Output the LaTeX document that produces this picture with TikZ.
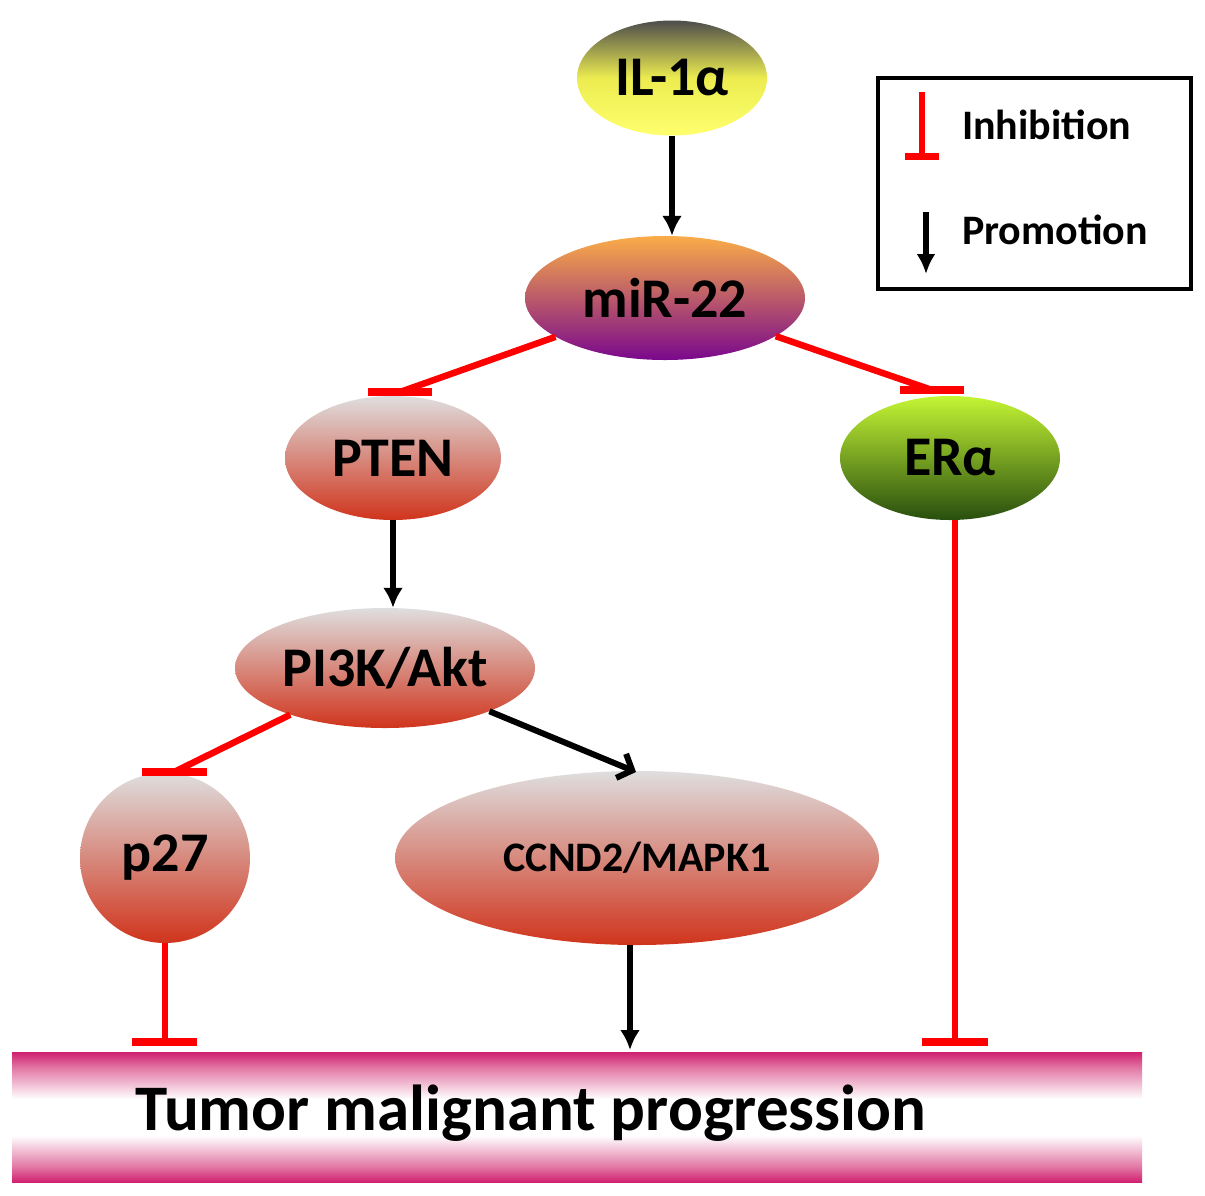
\documentclass[tikz,border=0pt]{standalone}
\usepackage{fontspec}
\setmainfont{Carlito}
\usetikzlibrary{shapes.geometric,arrows.meta}
\definecolor{inhred}{RGB}{255,0,0}
\definecolor{lgray}{RGB}{222,222,222}
\definecolor{nred}{RGB}{208,52,28}
\definecolor{bmag}{RGB}{208,32,112}
\definecolor{bmagl}{RGB}{226,120,165}
\definecolor{ilyel}{RGB}{236,236,80}
\definecolor{ilbot}{RGB}{255,255,110}
\definecolor{mirtop}{RGB}{250,172,72}
\definecolor{mirbot}{RGB}{122,8,140}
\definecolor{eratop}{RGB}{196,245,52}
\definecolor{erabot}{RGB}{40,78,14}
\pgfdeclareverticalshading{barshade}{100bp}{color(0bp)=(bmag); color(25bp)=(bmag); color(31bp)=(bmagl); color(43bp)=(white); color(57bp)=(white); color(69bp)=(bmagl); color(75bp)=(bmag); color(100bp)=(bmag)}
\tikzset{
  node font=\bfseries,
  pnode/.style={ellipse, inner sep=0pt, text=black},
  redn/.style={pnode, top color=lgray, bottom color=nred},
  bigf/.style={font=\fontsize{56}{62}\selectfont\bfseries},
  inh/.style={inhred, line width=6.5pt},
  tbar/.style={inhred, line width=7.5pt},
  prom/.style={black, line width=6pt, -{Latex[length=20pt,width=20pt]}},
  promb/.style={black, line width=6pt, -{Straight Barb[length=12pt,width=26pt,line width=6pt]}},
}
\begin{document}
\begin{tikzpicture}[x=1pt,y=-1pt]
\useasboundingbox (0,0) rectangle (1205,1195);
\fill[white] (0,0) rectangle (1205,1195);
% nodes
\node[pnode, bigf, minimum width=190pt, minimum height=115pt, top color=black!70, bottom color=ilbot, middle color=ilyel] (il) at (672,78) {IL-1α};
\node[pnode, bigf, minimum width=280pt, minimum height=124pt, top color=mirtop, bottom color=mirbot] (mir) at (665,298) {miR-22};
\node[redn, bigf, minimum width=216pt, minimum height=124pt] (pten) at (393,458) {PTEN};
\node[pnode, bigf, minimum width=220pt, minimum height=124pt, top color=eratop, bottom color=erabot] (era) at (950,458) {ERα};
\node[redn, bigf, minimum width=300pt, minimum height=120pt] (pi3k) at (385,668) {PI3K/Akt};
\node[redn, bigf, minimum width=170pt, minimum height=170pt] (p27) at (165,858) {p27};
\node[redn, minimum width=484pt, minimum height=174pt, font=\fontsize{42}{48}\selectfont\bfseries] (ccnd) at (637,858) {CCND2/MAPK1};
% bottom bar
\node[rectangle, inner sep=0pt, minimum width=1130pt, minimum height=130pt, anchor=north west, shading=barshade] (bar) at (12,1052) {};
\node[anchor=base west, font=\fontsize{65}{70}\selectfont\bfseries, inner sep=0pt] (tmp) at (135,1130) {Tumor malignant progression};
% legend
\node[draw=black, line width=3.5pt, rectangle, inner sep=0pt, minimum width=313pt, minimum height=211pt, anchor=north west] (leg) at (876,76) {};
\node[anchor=base west, font=\fontsize{42}{46}\selectfont\bfseries, inner sep=0pt] (linh) at (962,139) {Inhibition};
\node[anchor=base west, font=\fontsize{42}{46}\selectfont\bfseries, inner sep=0pt] (lpro) at (962,244) {Promotion};
\coordinate (lt1) at (922,92);
\coordinate (lt2) at (922,156);
\draw[inhred, line width=5.5pt] (lt1) -- (lt2);
\draw[inhred, line width=7pt] (lt2) ++(-17,0) -- ++(34,0);
\coordinate (la1) at (926,212);
\coordinate (la2) at (926,274);
\draw[black, line width=5.5pt, -{Latex[length=20pt,width=19pt]}] (la1) -- (la2);
% connectors
\draw[prom] (il.south) -- (il.south |- mir.north);
\coordinate (ptenT) at (400,392);
\coordinate (eraT) at (932,390);
\draw[inh] (mir) -- (ptenT);
\draw[tbar] (ptenT) ++(-32,0) -- ++(64,0);
\draw[inh] (mir) -- (eraT);
\draw[tbar] (eraT) ++(-32,0) -- ++(64,0);
\draw[prom] (pten.south) -- (pten.south |- pi3k.north);
\coordinate (ccndT) at (636,772);
\draw[promb] (pi3k) -- (ccndT);
\coordinate (p27T) at (174,772);
\draw[inh] (pi3k) -- (p27T);
\draw[tbar] (p27T) ++(-32,0) -- ++(65,0);
\coordinate (b1) at (165,1042);
\draw[inh] (p27.south) -- (b1);
\draw[tbar] (b1) ++(-33,0) -- ++(65,0);
\coordinate (b2) at (630,1050);
\draw[prom] (ccnd.south -| b2) -- (b2);
\coordinate (b3) at (955,1042);
\draw[inh] (era.south -| b3) -- (b3);
\draw[tbar] (b3) ++(-33,0) -- ++(66,0);
\end{tikzpicture}
\end{document}
